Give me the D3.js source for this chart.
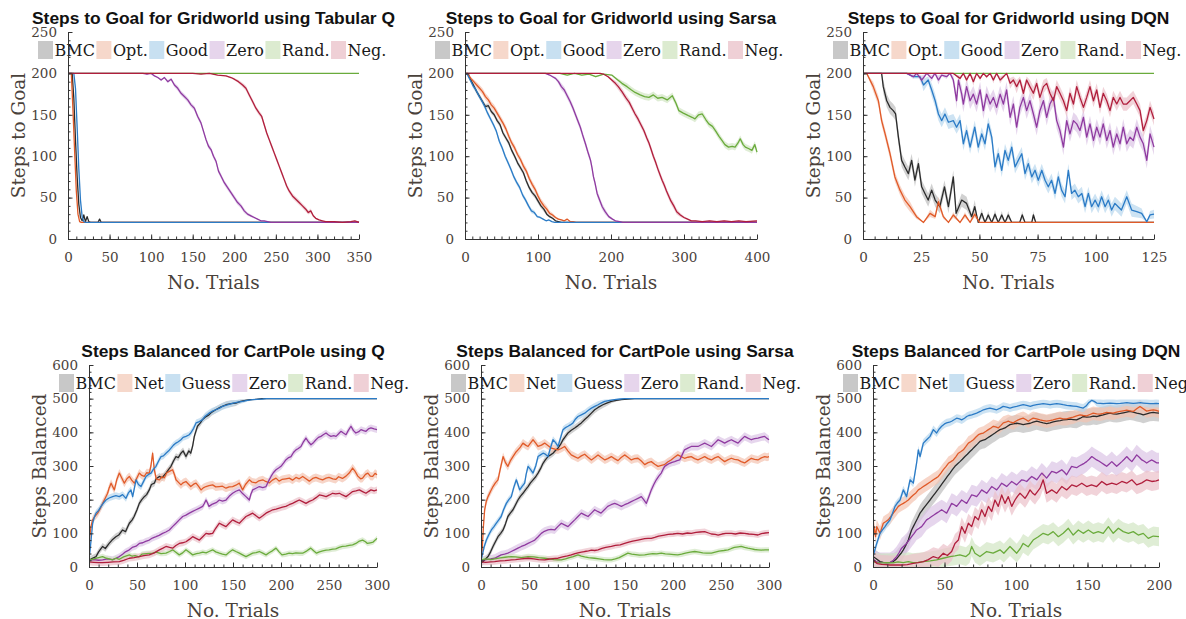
<!DOCTYPE html>
<html><head><meta charset="utf-8">
<script src="https://cdn.jsdelivr.net/npm/d3@7"></script>
<style>body{margin:0;background:#fff}</style>
</head><body><svg id="c" width="1186" height="619"></svg>
<script>
// ---------- DATA ----------
const gridNames = ["BMC","Opt.","Good","Zero","Rand.","Neg."];
const cartNames = ["BMC","Net","Guess","Zero","Rand.","Neg."];

// Gridworld, Tabular Q
const q_grid_bmc = [[0,200],[5,200],[7,170],[9,120],[11,75],[13,42],[15,26],[17,22],[19,29],[21,21],[23,27],[25,21],[27,20],[36,20],[38,24],[40,20],[350,20]];
const q_grid_opt = [[0,200],[4,200],[6,155],[8,105],[10,58],[12,30],[14,21],[16,20],[350,20]];
const q_grid_good = [[0,200],[7,200],[9,182],[11,135],[13,85],[15,47],[17,27],[19,21],[21,20],[350,20]];
const q_grid_zero = [[0,200],[90,200],[95,199],[100,200],[104,197],[108,195],[112,192],[116,195],[120,190],[124,193],[128,186],[132,182],[136,176],[140,172],[144,168],[148,162],[152,158],[156,148],[160,140],[163,130],[166,120],[169,112],[172,108],[175,100],[178,94],[181,82],[184,76],[188,68],[192,62],[196,56],[200,50],[204,44],[208,40],[212,34],[216,30],[220,28],[224,26],[228,24],[232,22],[236,22],[240,21],[244,20],[350,20]];
const q_grid_rand = [[0,200],[350,200]];
const q_grid_neg = [[0,200],[150,200],[160,199],[170,200],[180,198],[190,197],[196,195],[200,193],[205,190],[210,186],[214,182],[218,174],[222,166],[226,158],[230,152],[233,148],[236,138],[239,128],[242,120],[245,112],[248,104],[251,96],[254,88],[257,80],[260,72],[263,64],[266,58],[270,52],[274,48],[278,44],[282,40],[286,36],[289,32],[292,34],[295,28],[298,25],[302,23],[306,22],[310,21],[320,21],[330,20],[340,21],[345,22],[350,20]];
const q_grid_err = [2,2,2,3,0,3];

// Gridworld, Sarsa
const s_grid_bmc = [[0,200],[4,200],[8,192],[12,185],[16,178],[20,172],[24,166],[28,160],[32,161],[36,154],[40,150],[44,143],[48,138],[52,128],[56,122],[60,116],[64,107],[68,100],[72,92],[76,86],[80,80],[84,70],[88,62],[92,56],[96,52],[100,46],[104,40],[108,36],[112,30],[116,27],[120,25],[124,22],[128,21],[132,20],[400,20]];
const s_grid_opt = [[0,200],[4,199],[8,194],[12,190],[16,186],[20,182],[24,178],[28,172],[32,168],[36,162],[40,158],[44,152],[48,146],[52,140],[56,133],[60,124],[64,116],[68,110],[72,102],[76,96],[80,88],[84,82],[88,73],[92,66],[96,60],[100,52],[104,45],[108,40],[112,36],[116,31],[120,29],[124,26],[128,24],[132,23],[136,22],[140,24],[144,21],[148,21],[152,20],[400,20]];
const s_grid_good = [[0,200],[3,199],[7,192],[11,185],[15,180],[19,173],[23,167],[27,160],[31,152],[35,145],[39,138],[43,130],[47,118],[51,110],[55,100],[59,92],[63,84],[67,75],[71,68],[75,62],[79,53],[83,47],[87,40],[91,34],[95,32],[99,27],[103,26],[107,24],[111,22],[115,23],[119,21],[123,20],[400,20]];
const s_grid_zero = [[0,200],[110,200],[116,198],[120,196],[124,194],[128,190],[132,184],[136,180],[140,173],[144,166],[148,158],[151,151],[154,144],[158,135],[161,126],[165,115],[168,106],[172,95],[174,86],[176,75],[178,68],[181,55],[184,48],[188,39],[192,33],[197,27],[202,24],[206,22],[212,21],[216,20],[400,20]];
const s_grid_rand = [[0,200],[130,200],[140,198],[150,200],[160,198],[170,199],[179,196],[190,199],[201,198],[208,193],[215,188],[222,184],[228,180],[233,177],[240,174],[246,172],[252,171],[258,174],[264,170],[270,171],[277,168],[284,173],[289,164],[293,155],[299,152],[306,149],[311,147],[315,145],[320,150],[325,151],[330,144],[334,139],[339,136],[343,131],[348,124],[352,119],[356,114],[361,111],[366,112],[370,111],[374,116],[377,121],[381,114],[384,111],[389,109],[393,107],[397,114],[400,105]];
const s_grid_neg = [[0,200],[185,200],[190,199],[196,196],[201,192],[206,188],[210,184],[215,178],[220,171],[225,165],[229,158],[233,151],[237,145],[241,138],[245,131],[249,122],[252,116],[255,108],[258,100],[261,93],[264,85],[267,78],[270,71],[273,65],[276,58],[279,52],[282,46],[286,40],[290,33],[295,29],[300,26],[305,24],[310,22],[316,22],[325,21],[335,22],[345,21],[355,22],[365,21],[375,22],[385,21],[400,22]];
const s_grid_err = [3,4,3,4,4,4];

// Gridworld, DQN
const d_grid_bmc = [[0,200],[8,200],[8.7,184],[10.2,167],[11.6,159],[13,155],[14,151],[15.2,123],[16.6,95],[18,87],[19.5,79],[20.9,95],[22.3,71],[23.8,91],[25.2,63],[26.6,55],[28,47],[29.5,59],[31,47],[33,39],[35,63],[36.7,39],[38.8,75],[40,31],[42.4,47],[44.5,43],[46.7,27],[48,39],[49.5,20],[51,31],[52.4,20],[53.8,29],[55.3,20],[56.7,30],[58.1,20],[59.6,29],[61,20],[62.4,29],[63.9,20],[67.3,20],[68.4,29],[69.6,20],[72.5,20],[73.2,29],[74.2,20],[125,20]];
const d_grid_opt = [[0,200],[1.6,200],[4.4,184],[6.6,167],[8,143],[9.5,127],[11.6,103],[13.7,75],[15.9,59],[18,47],[20.2,39],[23,27],[26,20],[28.8,31],[31,27],[32.4,45],[34.5,27],[36.7,20],[38.8,29],[41.7,20],[43.8,29],[46,20],[48,30],[50,20],[125,20]];
const d_grid_good = [[0,200],[18.8,200],[21.7,196],[24.5,196],[26,186],[28,192],[29.5,180],[31,167],[32.4,151],[33.8,143],[35.2,151],[36.7,141],[38.8,143],[40.2,135],[41.7,143],[43.1,115],[44.5,131],[46,111],[48,135],[49.5,111],[51,127],[52.4,115],[53.8,139],[55.3,123],[56.7,87],[58.1,103],[59.6,83],[61,107],[62.4,95],[63.9,111],[65.3,87],[66.7,95],[68.2,103],[69.6,79],[71,91],[72.5,75],[73.9,83],[75.3,71],[76.8,83],[78.2,71],[79.6,63],[81,71],[82.5,55],[83.9,75],[85.3,59],[86.8,51],[88.2,83],[89.6,55],[91,59],[92.5,51],[94,55],[95.4,39],[96.8,55],[98.2,39],[99.7,47],[101.1,39],[102.5,51],[104,39],[105.4,47],[106.8,35],[108.2,43],[109.6,39],[111,35],[113.3,51],[115.4,35],[117.6,33],[119.7,31],[121.9,21],[123.3,29],[125,30]];
const d_grid_zero = [[0,200],[18.8,200],[21.6,196],[23.1,200],[25.2,192],[27.4,200],[29.5,194],[30.9,200],[32.4,192],[33.8,198],[35.9,196],[37.4,200],[38.8,192],[40.2,167],[41,192],[42.4,175],[43.1,163],[44.5,184],[46,167],[47.4,175],[48.8,163],[50.3,180],[51.7,155],[53.1,175],[54.6,163],[56,171],[57.4,159],[58.9,175],[60.3,163],[61.7,180],[63.2,147],[64.6,163],[66,135],[67.4,159],[68.9,171],[70.3,155],[71.7,167],[73.2,151],[74.6,135],[76,155],[77.5,167],[78.9,147],[80.3,163],[81.8,171],[83.2,143],[84.6,131],[86.1,111],[87.5,143],[88.9,127],[90.4,143],[91.8,139],[93.2,131],[94.7,147],[96.1,123],[97.5,139],[99,119],[100.4,135],[101.8,123],[103.2,139],[104.7,119],[106.1,131],[107.5,111],[109,127],[110.4,115],[111.8,135],[113.3,115],[114.7,123],[116.1,119],[117.6,135],[119,123],[120.4,115],[121.9,95],[123.3,127],[125,111]];
const d_grid_rand = [[0,200],[125,200]];
const d_grid_neg = [[0,200],[38.8,200],[41.7,194],[43.1,200],[44.5,192],[46,200],[47.4,190],[48.8,200],[50.3,194],[51.7,200],[53.1,196],[54.6,200],[56,192],[57.4,200],[58.9,192],[60.3,196],[61.7,200],[63.2,188],[64.6,192],[66,184],[67.4,192],[68.9,176],[70.3,192],[71.7,184],[73.2,176],[74.6,188],[76,171],[77.5,184],[78.9,188],[80.3,176],[81.8,167],[83.2,184],[84.6,176],[86.1,167],[87.5,155],[88.9,176],[90.4,163],[91.8,184],[93.2,171],[94.7,159],[96.1,171],[97.5,184],[99,167],[100.4,180],[101.8,159],[103.2,176],[104.7,167],[106.1,155],[107.5,171],[109,163],[110.4,171],[111.8,163],[113.3,163],[114.7,167],[116.1,171],[117.6,163],[119,155],[120.4,131],[121.9,143],[123.3,159],[125,145]];
const d_grid_err = [8,6,8,10,0,8];

// CartPole, Q
const q_cart_bmc = [[0,20],[3,25],[7.3,31],[10,45],[14.2,61],[17,55],[21,70],[24,80],[28,90],[31,95],[35,110],[38,105],[42,130],[45,140],[47,150],[50,170],[52.4,189],[55,200],[57.6,209],[60,215],[62.8,229],[65,245],[68,249],[70,262],[73.3,269],[76,265],[80.2,279],[83,290],[85.4,299],[88,315],[90.6,328],[93,325],[95.8,338],[98,345],[101,328],[104,345],[106,338],[108,360],[109.7,388],[111,400],[113,418],[116,428],[118,437],[121,445],[125,452],[128,460],[132,467],[137,475],[142.7,482],[148,485],[153,487],[158,492],[163,495],[168,497],[174,498],[180,500],[300,500]];
const q_cart_net = [[0,20],[0.8,90],[2,120],[3.8,140],[6,150],[9,160],[12,175],[14.2,189],[17,205],[19.4,219],[21,235],[23,249],[24.5,240],[26.4,229],[29,260],[31.6,279],[34,265],[36.8,249],[39.5,262],[42,269],[44.5,258],[47.2,249],[50,265],[52.4,279],[55,272],[57.6,269],[60,280],[62.8,279],[64.5,300],[66.3,338],[68,290],[70,262],[73.3,259],[76,268],[78.5,265],[81,280],[83.7,284],[87.1,289],[89,275],[90.6,259],[93,252],[95.8,244],[98,250],[101,254],[104,245],[106,239],[109,246],[111.5,249],[114,240],[116.7,229],[119,235],[121.9,239],[125,242],[128.8,244],[132,238],[135.8,239],[139,240],[142.7,234],[146,238],[149.6,239],[153,243],[156.6,249],[160,229],[163,245],[167,259],[170,252],[174,250],[177,256],[181,259],[184,254],[188,250],[191,258],[194.8,264],[198,255],[201,260],[205,262],[208.7,264],[212,258],[215.6,266],[219,262],[222.6,269],[226,262],[229.5,255],[233,263],[236.4,266],[240,262],[243.4,259],[247,264],[250,266],[254,262],[257,260],[260,268],[264,263],[267.7,270],[271,279],[274.6,294],[277,285],[280,270],[283,262],[285,264],[288,275],[290.5,279],[293,270],[295.5,269],[298,278],[300,274]];
const q_cart_guess = [[0,20],[1.5,60],[3.8,130],[5.5,148],[7.3,160],[10,168],[12.5,180],[15,190],[17.7,199],[21,205],[24.6,209],[28,212],[31.6,209],[35,215],[38.5,204],[41,220],[43.7,229],[45.5,209],[49,259],[51.5,245],[54.2,239],[57,255],[59.4,269],[62,275],[64.6,279],[67,290],[69.8,299],[72.5,315],[75,328],[77.5,330],[80.2,338],[83,345],[85.4,353],[88,362],[90.6,368],[93,372],[95.8,378],[98,385],[101,388],[104,392],[106,398],[109,412],[111.5,428],[115,432],[118,437],[121,448],[125,457],[128,462],[132,467],[136,472],[139,477],[145,482],[150,487],[155,490],[160,492],[165,495],[170,497],[175,498],[181,499],[185,500],[300,500]];
const q_cart_zero = [[0,20],[5,22],[10,20],[14.2,21],[19,24],[24.6,22],[28,26],[31.6,31],[35,38],[38,45],[42,51],[45,58],[49,62],[52.4,70],[56,72],[59,76],[62.8,80],[66,86],[69.8,90],[73,94],[76.7,100],[80,104],[83.7,110],[87,120],[90.6,130],[94,140],[97.6,150],[101,154],[104.5,160],[108,165],[111.5,170],[115,175],[118.4,180],[120,188],[121.9,199],[123.5,190],[125,180],[128,186],[130.5,189],[133,192],[135.8,199],[139,196],[142.7,199],[146,210],[149.6,219],[153,225],[156.6,229],[160,218],[163.5,209],[165,205],[167,199],[168.5,215],[170.5,229],[174,234],[177.4,239],[181,236],[184.4,239],[187,255],[189.6,269],[192,280],[194.8,289],[197.5,294],[200,299],[203,310],[205,318],[208,325],[210.4,328],[213,340],[215.6,348],[218,352],[220.8,358],[223,370],[226,383],[228.5,372],[231.2,363],[234,370],[236.4,378],[239,385],[241.6,388],[244,393],[246.9,398],[249.5,392],[252,388],[255,390],[257.3,388],[260,396],[262.5,403],[265,398],[267.7,393],[270,405],[272.9,418],[275.5,405],[278,398],[281,402],[283.3,408],[286,405],[288.5,403],[291,410],[293.7,413],[297,410],[300,408]];
const q_cart_rand = [[0,20],[5,24],[10,28],[14.2,31],[18,26],[21,24],[24.6,21],[28,26],[31.6,23],[36,30],[42,36],[45,32],[48,34],[52,30],[55,38],[60,40],[66.3,41],[70,44],[75,40],[80.2,41],[84,46],[87.1,51],[90.5,44],[94,36],[97.5,42],[101,51],[104.5,44],[108,36],[112,40],[115,41],[118.5,44],[122,42],[125,46],[128.8,51],[132,45],[135.8,41],[139,38],[142.7,36],[146,44],[149.6,51],[153,46],[156.6,41],[160,36],[163.5,31],[167,36],[170.5,41],[174,43],[177.4,46],[181,41],[184.4,36],[188,43],[191,48],[194.8,56],[198,45],[201,36],[205,38],[208.5,41],[212,40],[215.5,42],[219,41],[222.6,41],[227,48],[231,56],[234,48],[237,41],[240,45],[243.5,48],[247,50],[250,51],[254,53],[257,54],[260.5,58],[264,61],[267.5,62],[271,64],[274.6,66],[278,70],[281,76],[285,80],[288,75],[290,70],[293,72],[296,74],[300,85]];
const q_cart_neg = [[0,15],[5,14],[10,13],[14.2,13],[20,14],[25,15],[31.6,16],[36,20],[42,26],[47,28],[52.4,31],[57,34],[62.8,36],[68,42],[73.3,51],[77,56],[80.2,61],[84,58],[87.1,56],[90.5,64],[94,70],[97.5,72],[101,75],[104.5,82],[108,90],[111.5,85],[115,80],[118.5,90],[121.9,100],[125,98],[128.8,100],[132,115],[135.8,130],[139,125],[142.7,120],[146,130],[149.6,140],[153,135],[156.6,130],[160,140],[163.5,150],[167,155],[170.5,160],[174,152],[177.4,145],[181,152],[184.4,160],[188,165],[191.3,170],[194.8,172],[198.2,175],[201.5,178],[205,180],[208.5,185],[212,189],[215.5,194],[219,199],[222.5,194],[226,189],[229.5,195],[233,199],[236.5,206],[240,214],[243.5,212],[247,209],[250.5,214],[253.8,219],[257,217],[260.8,219],[264,214],[267.7,209],[271,216],[274.6,224],[278,226],[281.6,229],[285,224],[288.5,219],[291,224],[293.7,229],[297,226],[300,229]];
const q_cart_err = [10,12,10,10,8,10];

// CartPole, Sarsa
const s_cart_bmc = [[0,11],[3.5,20],[7.3,31],[10,45],[12.5,61],[15,75],[17.7,90],[20.5,100],[23,110],[25.5,128],[28,150],[30.5,160],[33.3,170],[36,185],[38.5,199],[41,210],[43.7,219],[46.5,230],[49,239],[51.5,250],[54.2,259],[57,268],[59.4,279],[62,292],[64.6,308],[67,318],[69.8,328],[72.5,333],[75,338],[77.5,346],[80.2,353],[83,365],[85.4,378],[88,388],[90.6,398],[94,406],[97.6,413],[101,420],[104.5,428],[108,438],[111.5,447],[115,457],[118.4,467],[122,474],[127,482],[131,487],[135.8,492],[141,495],[146,497],[153,499],[160,500],[300,500]];
const s_cart_net = [[0,20],[1.2,50],[2.5,120],[3.8,170],[5.5,195],[7.3,209],[10,225],[12.5,239],[15,250],[17.7,259],[20,290],[23,328],[25.5,310],[28,299],[30.5,315],[33.3,328],[36,340],[38.5,348],[41,356],[43.7,368],[46.5,362],[49,358],[51.5,368],[54.2,378],[57,368],[59.4,358],[63,362],[66.3,368],[70,360],[73.3,353],[77,350],[80.2,348],[83.5,352],[87.1,358],[90.5,345],[94,333],[97.5,328],[101,323],[104.5,330],[108,335],[111.5,326],[115,318],[118.5,325],[121.9,333],[125,326],[129,318],[132,322],[135.8,328],[139,322],[142.7,316],[146,325],[149.6,333],[153,326],[156.6,318],[160,322],[163.5,323],[167,315],[170.5,304],[174,310],[177.4,313],[181,305],[184.4,299],[188,302],[191,304],[194.5,312],[198,318],[201.5,326],[205,333],[208.5,328],[212,323],[215.5,326],[219,328],[222.5,322],[226,318],[229.5,323],[233,328],[236.5,322],[240,318],[243.5,324],[247,328],[250.5,320],[253.8,313],[257,318],[260.8,323],[264,320],[267.7,318],[271,313],[274.6,309],[278,316],[281.6,323],[285,320],[288.5,318],[292,324],[295.5,328],[298,326],[300,328]];
const s_cart_guess = [[0,20],[1,31],[3.3,60],[5.6,80],[8,95],[10.8,110],[13.5,120],[16,130],[18.5,140],[21,150],[23.5,170],[26.4,189],[29,200],[31.6,209],[34,235],[36.8,259],[38.5,245],[40.3,229],[43,240],[45.5,249],[47,275],[49,299],[51.5,290],[54.2,279],[57,300],[59.4,328],[62,333],[64.6,338],[67,335],[69.8,328],[72.5,355],[75,378],[77.5,370],[80.2,358],[83,385],[85.4,408],[88,414],[90.6,418],[93,422],[95.8,428],[98,438],[101,447],[104.5,452],[108,457],[111.5,465],[115,472],[118.4,477],[121.9,482],[125,487],[128.8,492],[133,494],[139,497],[145,499],[150,500],[300,500]];
const s_cart_zero = [[0,20],[5,22],[10,24],[14.2,26],[17.5,31],[21,36],[24.5,38],[28,41],[31.5,46],[35,51],[38.5,56],[42,61],[45.5,65],[49,70],[52.5,75],[56,80],[59.5,90],[62.8,100],[66,106],[69.8,110],[73,112],[76.7,110],[80,120],[83.7,130],[87,125],[90.6,120],[94,130],[97.6,140],[101,150],[104.5,160],[108,155],[111.5,150],[115,160],[118.4,170],[121.5,165],[125,160],[128.5,170],[132,180],[135.5,185],[139.2,189],[142.7,185],[146.2,180],[149.6,185],[153,189],[156.5,194],[160,199],[163.5,204],[167,209],[169.5,200],[172.2,189],[175,210],[177.4,229],[180,245],[182.6,259],[185.2,270],[187.8,279],[189.6,290],[191.3,299],[194,304],[196.5,308],[199,311],[201.7,313],[204.3,316],[207,318],[209.5,333],[212,348],[215.5,353],[219,358],[222.5,358],[226,358],[229.5,363],[233,368],[236.5,363],[240,358],[243.5,368],[247,378],[250.5,373],[253.8,368],[257,373],[260.8,378],[264,373],[267.7,368],[271,378],[274.6,388],[278,383],[281.6,378],[285,381],[288.5,383],[292,386],[295.5,388],[298,382],[300,378]];
const s_cart_rand = [[0,21],[5,24],[10,22],[14.2,24],[20,27],[25,29],[31.6,31],[36,30],[42,28],[49,31],[55,30],[60,28],[66.3,26],[71,24],[76,22],[80,21],[83.7,21],[88,24],[92,28],[96,31],[101,36],[104.5,32],[108,30],[112,28],[118.4,26],[123,24],[128,22],[132,21],[135.8,21],[140,24],[144,28],[148,34],[153,41],[157,38],[161,37],[165,35],[170.5,36],[175,38],[179,40],[183,39],[187.8,41],[192,39],[196,38],[201,37],[205,36],[209,38],[213,41],[218,44],[222.6,46],[227,44],[231,42],[235,41],[240,41],[244,44],[248,47],[253,49],[257.3,51],[261,55],[264,58],[268,60],[271,61],[274.6,58],[278,56],[282,54],[285,52],[288.5,51],[292,50],[296,51],[300,51]];
const s_cart_neg = [[0,15],[5,14],[10,15],[14.2,16],[20,18],[25,19],[31.6,21],[36,22],[42,24],[49,26],[55,24],[60,22],[66.3,21],[70,23],[75,25],[80.2,26],[85,30],[90,33],[94,36],[98,40],[101,42],[104.5,44],[108,46],[112,48],[115,50],[118.5,49],[121.9,51],[126,55],[130,58],[135.8,61],[140,64],[145,66],[149.6,70],[154,74],[158,77],[163.5,80],[167,82],[170.5,84],[174,85],[177.4,85],[181,88],[185,92],[191.3,95],[195,97],[200,98],[205,100],[210,98],[215,101],[219,100],[224,103],[228,104],[233,105],[237,101],[240,98],[244,97],[247,95],[251,98],[255,100],[260.8,100],[265,98],[270,101],[274.6,100],[279,98],[284,97],[288.5,95],[292,99],[296,101],[300,102]];
const s_cart_err = [10,12,10,12,8,9];

// CartPole, DQN
const d_cart_bmc = [[0,31],[2,25],[4.9,16],[7.2,14],[9.6,13],[12,14],[14.2,16],[16,22],[17.7,31],[19.5,40],[21.2,51],[23,65],[24.7,80],[25.8,95],[27,110],[28.2,120],[29.4,130],[31.2,145],[32.9,160],[34.6,170],[36.4,180],[38.2,190],[39.9,199],[41.6,209],[43.4,219],[45.2,229],[46.9,239],[48.6,249],[50.3,259],[52,269],[53.8,279],[55.5,289],[57.3,299],[59,306],[60.8,313],[62.5,320],[64.3,328],[66,335],[67.8,343],[69.5,350],[71.3,358],[73,365],[74.8,373],[76.5,376],[78.3,378],[80,383],[81.8,388],[83.5,393],[85.3,398],[87,403],[88.8,408],[90.5,410],[92.3,413],[94,418],[95.8,423],[98,425],[100.5,427],[103,425],[105,423],[107.5,425],[110,427],[112,430],[114.5,433],[117,430],[119,428],[121.5,426],[123.8,428],[126,431],[128.5,433],[131,435],[133,437],[135.5,438],[138,439],[140,438],[142.4,437],[145,442],[147,447],[149.5,445],[152,446],[154,448],[156.4,447],[159,450],[161,452],[163.4,455],[165.7,457],[168,455],[170.4,454],[173,456],[175,458],[177.4,460],[179.7,462],[182,460],[184.4,457],[187,455],[189,452],[191.4,455],[193.7,458],[196,459],[198,458],[200,457]];
const d_cart_net = [[0,80],[0.8,120],[1.8,90],[2.6,120],[4.9,100],[7.2,130],[9,135],[10.7,140],[12.5,150],[14.2,160],[16,170],[17.7,180],[19.4,185],[21.2,189],[23,194],[24.7,199],[26.5,207],[28.2,214],[30,220],[31.7,229],[33.5,234],[35.2,239],[37,244],[38.7,249],[40.5,254],[42.2,259],[44,264],[45.7,269],[47.5,279],[49.2,289],[51,298],[52.7,308],[54.5,313],[56.2,318],[58,328],[59.7,338],[61.5,343],[63.2,348],[65,358],[66.7,368],[68.5,373],[70.2,378],[72,386],[73.7,393],[75.5,396],[77.2,398],[79,403],[80.7,408],[82.5,413],[84.1,418],[85.8,416],[87.6,413],[89.3,420],[91.1,428],[92.8,430],[94.6,433],[96.3,430],[98.1,428],[99.8,433],[101.6,437],[103.3,440],[105,442],[106.8,438],[108.6,433],[110.3,438],[112,442],[114.4,440],[116.8,437],[119,435],[121.4,433],[123.7,435],[126,437],[128.4,440],[130.8,442],[133,440],[135.4,440],[137.7,443],[140,445],[142.4,449],[144.8,452],[147,450],[149.4,449],[151.7,453],[154,457],[156.4,455],[158.7,454],[161,456],[163.4,459],[165.7,458],[168,457],[170.4,460],[172.7,462],[175,464],[177.4,466],[179.7,464],[182,462],[184.4,470],[186.7,477],[189,470],[191.4,463],[193.7,465],[196,467],[198,465],[200,462]];
const d_cart_guess = [[0,30],[0.7,41],[2.6,70],[4.9,100],[6.6,110],[8.4,120],[10,130],[11.9,140],[13.7,160],[15.4,180],[17,190],[18.9,199],[21.2,229],[23.5,209],[25.9,259],[28.2,249],[30.5,309],[31.7,348],[32.9,328],[35.2,368],[37.5,378],[39.9,388],[42.2,408],[44.5,398],[46.3,410],[48,418],[50,425],[51.5,428],[53.5,430],[55,433],[57,438],[58.5,442],[60.5,440],[62,437],[64,442],[65.5,447],[67,450],[69,452],[71,455],[72.5,457],[75,462],[77.2,467],[79.5,470],[81.8,472],[84,470],[86.5,467],[89,472],[91,477],[93.5,475],[95.8,472],[98,475],[100.5,477],[103,480],[105,482],[107.5,480],[110,477],[112,480],[114.5,482],[117,484],[119,485],[121.5,484],[123.8,482],[126,484],[128.5,485],[131,484],[133,482],[135.5,480],[138,479],[140,478],[142.4,477],[145,474],[147,472],[149,478],[150.6,487],[153,495],[154.7,492],[156.4,487],[159,486],[161,485],[163.4,486],[165.7,487],[168,486],[170.4,485],[173,486],[175,487],[177.5,488],[180,487],[182,486],[184.4,487],[187,488],[189,487],[191.4,486],[193.7,485],[196,485],[198,486],[200,485]];
const d_cart_zero = [[0,25],[2,16],[4.9,13],[8,13],[11.9,13],[14.2,20],[16.5,31],[18.3,43],[20,56],[21.8,63],[23.5,70],[25.2,80],[27,90],[28.8,100],[30.5,110],[32.3,115],[34,120],[35.8,130],[37.5,140],[39.3,145],[41,150],[42.8,155],[44.5,160],[46.3,165],[48,170],[49.8,165],[51.5,160],[53.3,175],[55,189],[56.8,185],[58.5,180],[60.3,190],[62,199],[63.8,194],[65.5,189],[67.3,202],[69,214],[70.8,212],[72.5,209],[74.3,219],[76,229],[77.8,224],[79.5,219],[81.3,229],[83,239],[84.8,234],[86.5,229],[88.3,239],[90,249],[91.8,244],[93.5,239],[95.3,247],[97,254],[98.8,249],[100.5,244],[102.3,252],[104,259],[105.8,257],[107.5,254],[109.3,262],[111,269],[112.8,264],[114.5,259],[116.3,269],[118,279],[119.7,272],[121.4,264],[123.2,274],[125,284],[126.7,282],[128.4,279],[130.2,284],[132,289],[133.7,282],[135.4,274],[137.2,287],[138.9,299],[140.7,297],[142.4,295],[144.2,300],[146,304],[147.7,308],[149.4,313],[151.2,320],[153,328],[154.7,323],[156.4,318],[158.2,314],[160,309],[161.7,304],[163.4,299],[165.2,306],[167,313],[168.7,306],[170.4,299],[172.2,306],[174,313],[175.7,320],[177.4,328],[179.2,320],[181,313],[182.7,323],[184.4,333],[186.2,326],[188,318],[189.7,314],[191.4,309],[193.2,314],[195,318],[197,313],[198.5,309],[200,309]];
const d_cart_rand = [[0,15],[3,13],[6,12],[10,13],[14,12],[17.5,15],[21.2,13],[24.7,16],[28,13],[31.5,14],[35.2,16],[40,18],[44.5,21],[49,26],[53.8,31],[57.3,33],[60.8,36],[65,31],[67.5,40],[69,61],[71.3,41],[74.8,31],[79.5,46],[84,41],[88.8,51],[91.5,41],[95.8,61],[100.5,41],[103,55],[105,70],[108.5,60],[112,80],[115.6,90],[119,100],[122.5,95],[126,105],[129.6,90],[133,100],[136.6,115],[140,95],[143.6,110],[147,100],[150.6,110],[154,100],[157.5,105],[161,100],[164.6,120],[168,100],[171.6,115],[175,105],[178.6,100],[182,105],[185.5,95],[189,100],[192.5,85],[196,92],[200,90]];
const d_cart_neg = [[0,20],[3,10],[6,8],[9,7],[11.9,6],[15,6],[20,6],[24,7],[28.2,11],[31.7,13],[35.2,16],[38.7,22],[42.2,31],[45.7,26],[49.2,41],[52,34],[55,46],[57.3,70],[59.7,80],[62,120],[64.3,100],[66.7,130],[69,120],[71.3,150],[73.7,140],[76,170],[78.3,150],[80.7,180],[83,165],[85.3,199],[87.6,180],[90,214],[92.3,189],[94.6,209],[97,180],[99.3,199],[101,210],[102.8,219],[104.5,212],[106.3,204],[108,215],[109.8,229],[111.5,220],[113.3,214],[115,224],[116.8,234],[119,259],[121.4,219],[123.2,224],[125,229],[126.7,224],[128.4,219],[130.2,229],[132,239],[133.7,234],[135.4,229],[137.2,236],[139,244],[142.4,239],[146,249],[149.4,239],[152.8,244],[156.4,239],[160,254],[163.4,244],[167,249],[170.4,245],[174,254],[177.4,249],[181,259],[184.4,244],[188,250],[191.4,259],[195,254],[198,256],[200,259]];
const d_cart_err = [25,20,12,30,28,28];

// ---------- STYLE ----------
const lineColors = ["#2b2b2b","#e05a28","#2b7bc6","#8f3aa0","#6aab3c","#b01e3c"];
const bandColors = ["#bdbdbd","#f3c3b0","#b8d7ee","#dcc4e5","#d2e6c3","#ebc0c9"];
const swatchColors = ["#c8c8c8","#f6d8cb","#c8e0f1","#e6d5ec","#dcebd0","#efd0d6"];
const serif = "'DejaVu Serif', serif";
const textCol = "#4a423b";

const panels = [
  {title:"Steps to Goal for Gridworld using Tabular Q", names:gridNames, series:[q_grid_bmc,q_grid_opt,q_grid_good,q_grid_zero,q_grid_rand,q_grid_neg], err:q_grid_err, xmax:350, xMaj:50, xMin:10, ymax:250, yMaj:50, yMin:10, ylab:"Steps to Goal", x0:68, x1:359, yt:32, yb:239, lo:20, hi:200},
  {title:"Steps to Goal for Gridworld using Sarsa", names:gridNames, series:[s_grid_bmc,s_grid_opt,s_grid_good,s_grid_zero,s_grid_rand,s_grid_neg], err:s_grid_err, xmax:400, xMaj:100, xMin:10, ymax:250, yMaj:50, yMin:10, ylab:"Steps to Goal", x0:465, x1:757, yt:32, yb:239, lo:20, hi:200},
  {title:"Steps to Goal for Gridworld using DQN", names:gridNames, series:[d_grid_bmc,d_grid_opt,d_grid_good,d_grid_zero,d_grid_rand,d_grid_neg], err:d_grid_err, xmax:125, xMaj:25, xMin:5, ymax:250, yMaj:50, yMin:10, ylab:"Steps to Goal", x0:863, x1:1154, yt:32, yb:239, lo:20, hi:200},
  {title:"Steps Balanced for CartPole using Q", names:cartNames, series:[q_cart_bmc,q_cart_net,q_cart_guess,q_cart_zero,q_cart_rand,q_cart_neg], err:q_cart_err, xmax:300, xMaj:50, xMin:10, ymax:600, yMaj:100, yMin:20, ylab:"Steps Balanced", x0:89, x1:377, yt:365, yb:567, lo:0, hi:500},
  {title:"Steps Balanced for CartPole using Sarsa", names:cartNames, series:[s_cart_bmc,s_cart_net,s_cart_guess,s_cart_zero,s_cart_rand,s_cart_neg], err:s_cart_err, xmax:300, xMaj:50, xMin:10, ymax:600, yMaj:100, yMin:20, ylab:"Steps Balanced", x0:481, x1:769, yt:365, yb:567, lo:0, hi:500},
  {title:"Steps Balanced for CartPole using DQN", names:cartNames, series:[d_cart_bmc,d_cart_net,d_cart_guess,d_cart_zero,d_cart_rand,d_cart_neg], err:d_cart_err, xmax:200, xMaj:50, xMin:10, ymax:600, yMaj:100, yMin:20, ylab:"Steps Balanced", x0:873, x1:1159, yt:365, yb:567, lo:0, hi:500}
];

const svg = d3.select("#c");

panels.forEach((p, pi) => {
  const g = svg.append("g");
  const x = d3.scaleLinear().domain([0, p.xmax]).range([p.x0, p.x1]);
  const y = d3.scaleLinear().domain([0, p.ymax]).range([p.yb, p.yt]);
  const clipId = "clip" + pi;
  g.append("clipPath").attr("id", clipId).append("rect")
    .attr("x", p.x0).attr("y", p.yt).attr("width", p.x1 - p.x0 + 2).attr("height", p.yb - p.yt);
  const plot = g.append("g").attr("clip-path", `url(#${clipId})`);

  // taper of band near the saturating limits
  const taper = v => {
    const a = Math.min(1, Math.max(0, (v - p.lo) / 15));
    const b = Math.min(1, Math.max(0, (p.hi - v) / 15));
    return p.lo > 0 ? a * b : b;
  };
  p.series.forEach((s, i) => {
    const e = p.err[i];
    if (e <= 0) return;
    const area = d3.area()
      .x(d => x(d[0]))
      .y0(d => y(Math.max(0, d[1] - e * taper(d[1]))))
      .y1(d => y(d[1] + e * taper(d[1])));
    plot.append("path").datum(s).attr("d", area)
      .attr("fill", bandColors[i]).attr("fill-opacity", 0.7);
  });
  p.series.forEach((s, i) => {
    const line = d3.line().x(d => x(d[0])).y(d => y(d[1]));
    plot.append("path").datum(s).attr("d", line)
      .attr("fill", "none").attr("stroke", lineColors[i])
      .attr("stroke-width", 1.3).attr("stroke-linejoin", "round");
  });

  // legend
  const ly = p.yt + 18;
  let lx = p.x0 - 30;
  p.names.forEach((n, i) => {
    g.append("rect").attr("x", lx).attr("y", ly - 9).attr("width", 15).attr("height", 18)
      .attr("fill", swatchColors[i]);
    const t = g.append("text").attr("x", lx + 16.5).attr("y", ly + 5.5)
      .attr("font-family", serif).attr("font-size", 16).attr("fill", "#1a1a1a").text(n);
    lx += 16.5 + t.node().getComputedTextLength() + 1.5;
  });

  // axes
  const xAx = g.append("g").attr("transform", `translate(0,${p.yb})`)
    .call(d3.axisBottom(x).tickValues(d3.range(0, p.xmax + 1e-6, p.xMaj))
      .tickSizeInner(-4.5).tickSizeOuter(0).tickPadding(13).tickFormat(d3.format("d")));
  g.append("g").attr("transform", `translate(0,${p.yb})`)
    .call(d3.axisBottom(x).tickValues(d3.range(0, p.xmax + 1e-6, p.xMin))
      .tickSizeInner(-2.5).tickSizeOuter(0).tickFormat(""))
    .select(".domain").remove();
  const yAx = g.append("g").attr("transform", `translate(${p.x0},0)`)
    .call(d3.axisLeft(y).tickValues(d3.range(0, p.ymax + 1e-6, p.yMaj))
      .tickSizeInner(-4.5).tickSizeOuter(0).tickPadding(11).tickFormat(d3.format("d")));
  g.append("g").attr("transform", `translate(${p.x0},0)`)
    .call(d3.axisLeft(y).tickValues(d3.range(0, p.ymax + 1e-6, p.yMin))
      .tickSizeInner(-2.5).tickSizeOuter(0).tickFormat(""))
    .select(".domain").remove();
  g.selectAll(".domain, .tick line").attr("stroke", "#333").attr("stroke-width", 1);
  [xAx, yAx].forEach(a => a.selectAll("text")
    .attr("font-family", serif).attr("font-size", 13.5).attr("fill", textCol));

  // axis titles
  g.append("text").attr("x", (p.x0 + p.x1) / 2).attr("y", p.yb + 50)
    .attr("text-anchor", "middle").attr("font-family", serif).attr("font-size", 18.5)
    .attr("fill", textCol).text("No. Trials");
  g.append("text")
    .attr("transform", `translate(${p.x0 - 49},${(p.yt + p.yb) / 2}) rotate(-90)`)
    .attr("dy", "0.35em").attr("text-anchor", "middle").attr("font-family", serif)
    .attr("font-size", 18.5).attr("fill", textCol).text(p.ylab);

  // title
  g.append("text").attr("x", (p.x0 + p.x1) / 2).attr("y", p.yt - 8)
    .attr("text-anchor", "middle").attr("font-family", "'Liberation Sans', Arial, sans-serif")
    .attr("font-weight", "bold").attr("font-size", 17.4).attr("fill", "#111").text(p.title);
});
</script>
</body></html>
